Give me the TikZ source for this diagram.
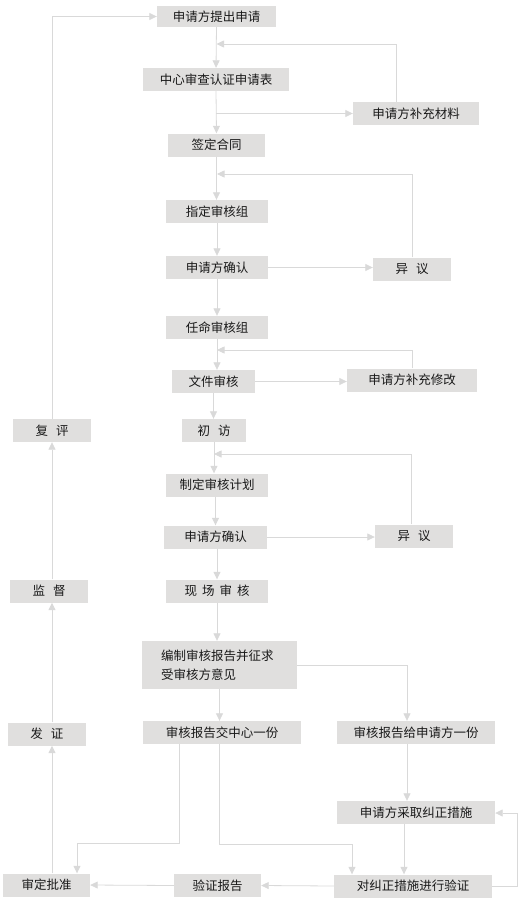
\documentclass[tikz,border=0pt]{standalone}
\usepackage{fontspec}
\setmainfont{Noto Sans CJK SC}
\usepackage{tikz}
\usetikzlibrary{arrows.meta}
\usepackage{xcolor}
\definecolor{boxgray}{HTML}{E0DFDE}
\definecolor{linegray}{HTML}{D9D9D9}

\begin{document}
\begin{tikzpicture}[x=1pt, y=-1pt,
    box/.style={fill=boxgray, minimum height=23pt, inner sep=0pt, text=black!90, font=\fontsize{12.5}{19}\selectfont},
    flow/.style={draw=linegray, line width=0.8pt, -{Triangle[width=7pt,length=7.5pt]}}]
\useasboundingbox (0,0) rectangle (528,910);
\node[box, minimum width=119pt, minimum height=21pt] (apply) at (216.5,16.5) {申请方提出申请};
\node[box, minimum width=146pt] (review) at (216,79.5) {中心审查认证申请表};
\node[box, minimum width=126pt] (supply) at (416,113.5) {申请方补充材料};
\node[box, minimum width=97pt] (contract) at (216.5,145) {签定合同};
\node[box, minimum width=102pt] (assign) at (217,211.5) {指定审核组};
\node[box, minimum width=102pt] (confirmA) at (217,267.5) {申请方确认};
\node[box, minimum width=78pt] (objA) at (412,269) {异\hspace{8pt}议};
\node[box, minimum width=102pt] (appoint) at (217,327.5) {任命审核组};
\node[box, minimum width=83pt] (docrev) at (213.5,381.5) {文件审核};
\node[box, minimum width=130pt] (modify) at (412,380) {申请方补充修改};
\node[box, minimum width=78pt] (recheck) at (52,430.5) {复\hspace{8pt}评};
\node[box, minimum width=64pt] (visit) at (214,430.5) {初\hspace{8pt}访};
\node[box, minimum width=102pt] (plan) at (217,485) {制定审核计划};
\node[box, minimum width=103pt] (confirmB) at (215.5,537) {申请方确认};
\node[box, minimum width=78pt] (objB) at (414,536) {异\hspace{8pt}议};
\node[box, minimum width=102pt] (onsite) at (217,591) {现\hspace{5pt}场\hspace{5pt}审\hspace{5pt}核};
\node[box, minimum width=78pt] (supervise) at (49,591) {监\hspace{8pt}督};
\node[box, minimum width=155pt, minimum height=48pt, text width=117pt, align=left] (report) at (219.5,665) {编制审核报告并征求\\受审核方意见};
\node[box, minimum width=158pt] (tocenter) at (222,732.5) {审核报告交中心一份};
\node[box, minimum width=158pt] (toapp) at (416,732.5) {审核报告给申请方一份};
\node[box, minimum width=78pt] (certify) at (47,734) {发\hspace{8pt}证};
\node[box, minimum width=158pt] (correct) at (416,812.5) {申请方采取纠正措施};
\node[box, minimum width=158pt] (verify) at (413,886) {对纠正措施进行验证};
\node[box, minimum width=87pt] (vreport) at (217.5,885.5) {验证报告};
\node[box, minimum width=87pt] (approve) at (46.5,885) {审定批准};

\coordinate (back1) at (216.5,44);
\coordinate (back2) at (217,174);
\coordinate (back3) at (217,350);
\coordinate (back4) at (214,454);
\coordinate (turnL) at (179,843);
\coordinate (turnR) at (219,844);
\coordinate (loop) at (517,813);

\draw[flow] (apply.south) -- (review.north);
\draw[flow] (review.south) -- (contract.north);
\draw[flow] (review.south |- supply.west) -- (supply.west);
\draw[flow] ([xshift=-20pt]supply.north) |- (back1);
\draw[flow] (contract.south) -- (contract.south |- assign.north);
\draw[flow] (objA.north) |- (back2);
\draw[flow] (assign.south) -- (confirmA.north);
\draw[flow] (confirmA.east) -- (confirmA.east -| objA.west);
\draw[flow] (confirmA.south) -- (appoint.north);
\draw[flow] (appoint.south) -- (appoint.south |- docrev.north);
\draw[flow] (modify.north) |- (back3);
\draw[flow] (docrev.east) -- (docrev.east -| modify.west);
\draw[flow] (docrev.south) -- (docrev.south |- visit.north);
\draw[flow] ([xshift=-3pt]objB.north) |- (back4);
\draw[flow] (visit.south) -- (visit.south |- plan.north);
\draw[flow] (confirmB.north |- plan.south) -- (confirmB.north);
\draw[flow] (confirmB.east) -- (confirmB.east -| objB.west);
\draw[flow] (onsite.north |- confirmB.south) -- (onsite.north);
\draw[flow] (onsite.south) -- (onsite.south |- report.north);
\draw[flow] (report.east) -| ([xshift=-9pt]toapp.north);
\draw[flow] (report.south) -- (report.south |- tocenter.north);
\draw[flow] (turnL |- tocenter.south) -- (turnL) -| ([xshift=30.5pt]approve.north);
\draw[flow] (turnR |- tocenter.south) -- (turnR) -| ([xshift=-61pt]verify.north);
\draw[flow] ([xshift=-9pt]toapp.south) -- ([xshift=-9pt]correct.north);
\draw[flow] ([xshift=-12pt]correct.south) -- ([xshift=-9pt]verify.north);
\draw[flow] (verify.east) -| (loop) -- (loop -| correct.east);
\draw[flow] (verify.west) -- (vreport.east);
\draw[flow] (vreport.west) -- (approve.east);
\draw[flow] (recheck |- approve.north) -- (recheck |- certify.south);
\draw[flow] (recheck |- certify.north) -- (recheck |- supervise.south);
\draw[flow] (recheck |- supervise.north) -- (recheck.south);
\draw[flow] (recheck.north) |- (apply.west);
\end{tikzpicture}
\end{document}
